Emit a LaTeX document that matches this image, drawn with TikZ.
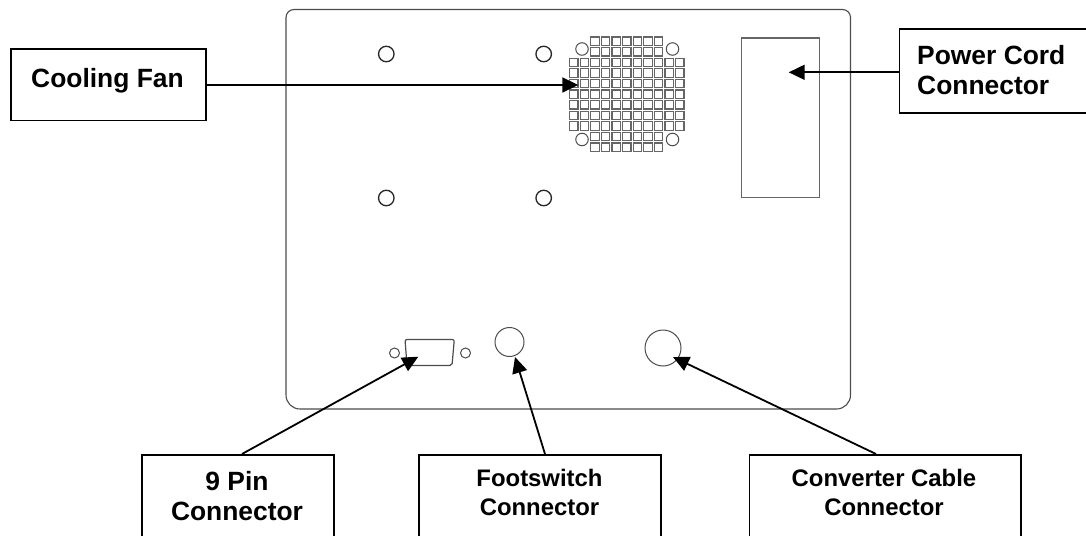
\documentclass[tikz,border=0pt]{standalone}
\usepackage{fontspec}
\setmainfont{Liberation Sans}
\usetikzlibrary{arrows.meta}
\tikzset{
  part/.style={draw=black!70,line width=1pt,fill=white},
  hole/.style={circle,draw=black!85,line width=1.3pt,fill=white,inner sep=0pt,minimum size=#1},
  thinhole/.style={circle,part,inner sep=0pt,minimum size=#1},
  cell/.style={draw=black!60,line width=1.1pt,fill=white},
  labelbox/.style={draw=black,line width=1.9pt,fill=white,anchor=north west,inner sep=0pt},
  biglabel/.style={align=center,inner sep=0pt,font=\bfseries\fontsize{26.4}{30.5}\selectfont},
  smalllabel/.style={align=center,inner sep=0pt,font=\bfseries\fontsize{23.9}{29.5}\selectfont},
  conn/.style={draw=black,line width=1.8pt,-{Triangle[length=16pt,width=15pt]}},
}
\begin{document}
\begin{tikzpicture}[x=1pt,y=-1pt]
\useasboundingbox (0,0) rectangle (1086,535);
\clip (0,0) rectangle (1086,535);
% panel
\draw[draw=black!70,line width=1.1pt,rounded corners=8pt] (500,9.5) -- (850.5,9.5) -- (850.5,200) [rounded corners=14pt] -- (850.5,409) -- (286,409) -- (286,200) [rounded corners=8pt] -- (286,9.5) -- (500,9.5);
% mounting holes
\node[hole=15.5pt] (h1) at (386.3,54) {};
\node[hole=15.5pt] (h2) at (543.7,54) {};
\node[hole=15.5pt] (h3) at (386.3,198) {};
\node[hole=15.5pt] (h4) at (543.7,198) {};
% fan grid
\foreach \r in {0,...,10}{
  \foreach \c in {0,...,10}{
    \pgfmathtruncatemacro{\show}{(\r>1 && \r<9) || (\c>1 && \c<9) ? 1 : 0}
    \ifnum\show=1
      \path[cell] ({569.6+\c*10.6},{37+\r*10.6}) rectangle +(8.4,8.4);
    \fi
  }
}
\node[thinhole=12.5pt] (f1) at (582,49) {};
\node[thinhole=12.5pt] (f2) at (672.5,49) {};
\node[thinhole=12.5pt] (f3) at (582,139.5) {};
\node[thinhole=12.5pt] (f4) at (672.5,139.5) {};
% power socket
\node[draw=black!60,line width=1.1pt,minimum width=78pt,minimum height=159pt,inner sep=0pt,anchor=north west] (power) at (741,37.5) {};
% 9 pin
\draw[part,line width=1.2pt,rounded corners=2pt] (405,339.5) -- (454.3,339.5) -- (452,365.5) -- (407,365.5) -- cycle;
\node[thinhole=10pt] (p1) at (394.5,353) {};
\node[thinhole=10pt] (p2) at (465.5,353) {};
% round connectors
\node[thinhole=29pt] (foot) at (509.5,342) {};
\node[thinhole=36pt] (conv) at (663,348) {};
% label boxes
\node[labelbox,minimum width=195pt,minimum height=71pt] (bfan) at (10,48.5) {};
\node[biglabel] at (107.5,81) {Cooling Fan};
\node[labelbox,minimum width=210pt,minimum height=84pt] (bpow) at (898.5,28.3) {};
\node[biglabel,align=left,anchor=west] at (917,70) {Power Cord\\Connector};
\node[labelbox,minimum width=192pt,minimum height=100pt] (b9) at (141,454) {};
\node[biglabel] at (237,496) {9 Pin\\Connector};
\node[labelbox,minimum width=242pt,minimum height=100pt] (bfs) at (418.3,454) {};
\node[smalllabel] at (539.5,492.7) {Footswitch\\Connector};
\node[labelbox,minimum width=271.5pt,minimum height=100pt] (bcc) at (748.5,454) {};
\node[smalllabel] at (884,492.7) {Converter Cable\\Connector};
% connector ends
\coordinate (sfan) at (205,85);
\coordinate (tfan) at (578.3,85);
\coordinate (spow) at (898.5,72.3);
\coordinate (tpow) at (788.7,72.3);
\coordinate (t9) at (418.3,356.7);
\coordinate (tfs) at (515,357);
\coordinate (tcc) at (673,357);
\coordinate (s9) at (242,454);
\coordinate (sfs) at (545,454);
\coordinate (scc) at (876,454);
\draw[conn] (sfan) -- (tfan);
\draw[conn,line width=1.7pt] (spow) -- (tpow);
\draw[conn] (s9) -- (t9);
\draw[conn] (sfs) -- (tfs);
\draw[conn] (scc) -- (tcc);
\end{tikzpicture}
\end{document}
